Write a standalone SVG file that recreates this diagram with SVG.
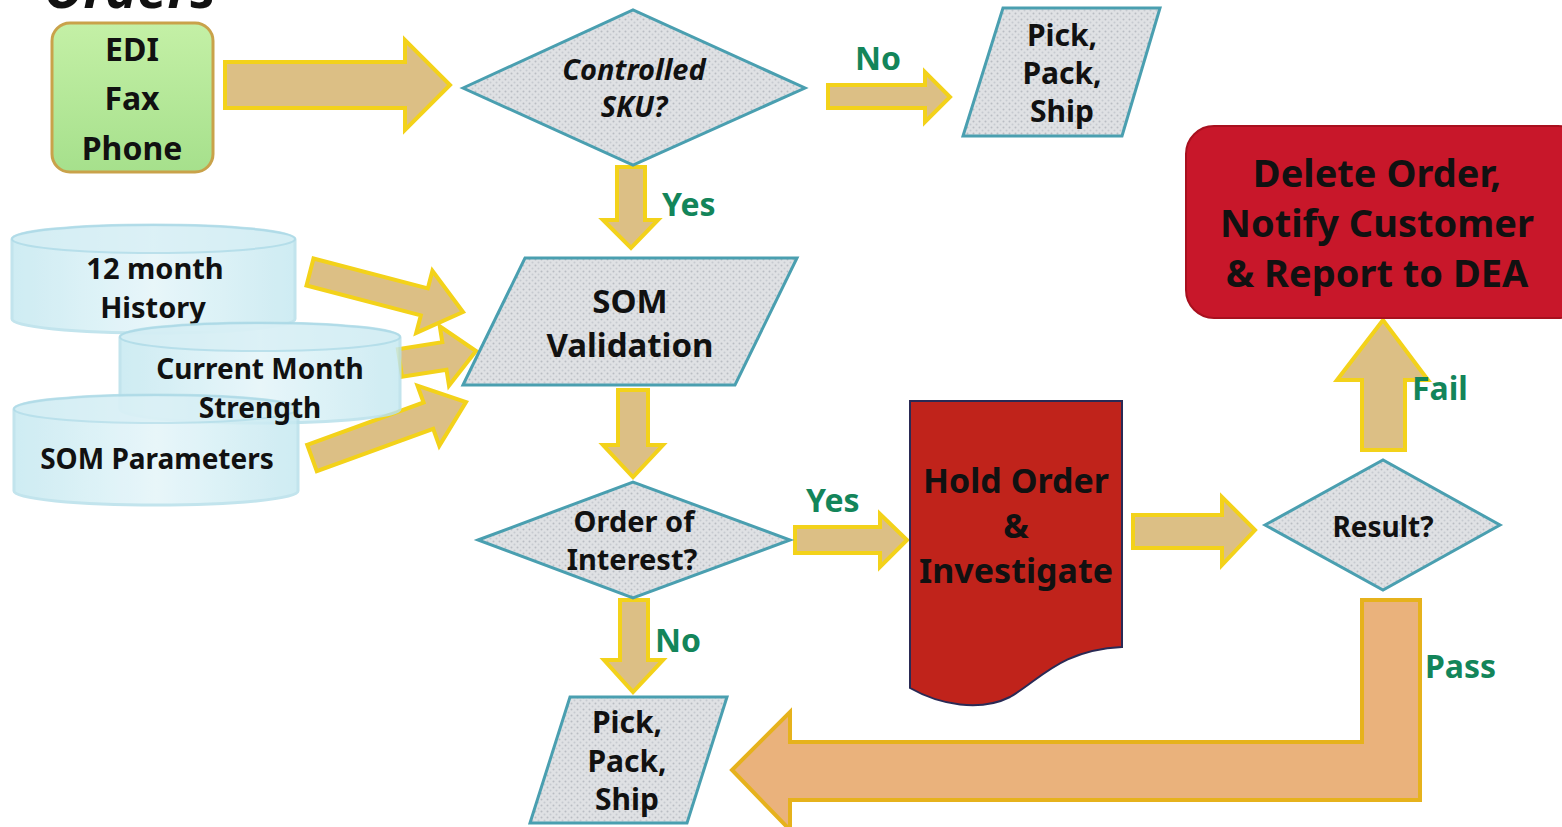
<svg xmlns="http://www.w3.org/2000/svg" width="1562" height="827" viewBox="0 0 1562 827">
  <defs>
    <pattern id="tex" width="6" height="6" patternUnits="userSpaceOnUse">
      <rect width="6" height="6" fill="#dfe1e4"/>
      <circle cx="1.5" cy="1.5" r="1" fill="#b9bdc3"/>
      <circle cx="4.5" cy="4.5" r="1" fill="#c6cad0"/>
    </pattern>
    <linearGradient id="green" x1="0" y1="0" x2="0" y2="1">
      <stop offset="0" stop-color="#c4f0a6"/>
      <stop offset="1" stop-color="#a6e08c"/>
    </linearGradient>
    <linearGradient id="cyl" x1="0" y1="0" x2="1" y2="0">
      <stop offset="0" stop-color="#c6e9f1"/>
      <stop offset="0.5" stop-color="#e4f5f9"/>
      <stop offset="1" stop-color="#c6e9f1"/>
    </linearGradient>
    <style>
      text { font-family: "Noto Sans", "Open Sans", "DejaVu Sans", sans-serif; font-weight: bold; fill: #111; text-anchor: middle; }
      .lbl { fill: #13855a; font-size: 32px; text-anchor: start; }
      .arrow { fill: #dcbf85; stroke: #f3d21a; stroke-width: 4; stroke-linejoin: miter; }
      .pass { fill: #eab27c; stroke: #e6b21c; stroke-width: 4; }
      .dec { fill: url(#tex); stroke: #4a9fb0; stroke-width: 3; }
      .cyl { fill: url(#cyl); stroke: #b8e0ea; stroke-width: 3; opacity: 0.85; }
      .cyltop { fill: #d7eff5; stroke: #a9d8e6; stroke-width: 2; }
    </style>
  </defs>
  <rect width="1562" height="827" fill="#ffffff"/>

  <text x="130" y="8" style="font-size:54px;font-style:italic">Orders</text>

  <g id="connectors">
    <polygon class="arrow" points="225,62 405,62 405,40 450,85 405,130 405,108 225,108"/>
    <polygon class="arrow" points="828,85 925,85 925,72 950,97 925,122 925,108 828,108"/>
    <polygon class="arrow" points="617,167 645,167 645,220 658,220 631,248 603,220 617,220"/>
    <polygon class="arrow" points="313.5,258.5 427.8,288.4 432.4,270.9 463,312 416.2,332.9 420.8,315.4 306.5,285.5"/>
    <polygon class="arrow" points="397.9,349.2 442.3,342.1 439.8,326.3 476,351 449,385.6 446.5,369.7 402.1,376.8"/>
    <polygon class="arrow" points="307.2,444.8 423.6,402.5 417.5,385.6 466,402 439.3,445.8 433.2,428.9 316.8,471.2"/>
    <polygon class="arrow" points="618,390 648,390 648,445 663,445 633,477 603,445 618,445"/>
    <polygon class="arrow" points="795,527 880,527 880,514 907,540 880,567 880,553 795,553"/>
    <polygon class="arrow" points="620,600 648,600 648,660 663,660 633,692 604,660 620,660"/>
    <polygon class="arrow" points="1133,515 1222,515 1222,497 1255,530 1222,565 1222,548 1133,548"/>
    <polygon class="arrow" points="1362,450 1405,450 1405,380 1428,380 1383,320 1337,380 1362,380"/>
    <polygon class="pass" points="1362,600 1420,600 1420,800 790,800 790,830 732,770 790,712 790,742 1362,742"/>
    <text class="lbl" x="855" y="70">No</text>
    <text class="lbl" x="662" y="216">Yes</text>
    <text class="lbl" x="806" y="512">Yes</text>
    <text class="lbl" x="655" y="652">No</text>
    <text class="lbl" x="1412" y="400">Fail</text>
    <text class="lbl" x="1425" y="678">Pass</text>
  </g>

  <g id="orders-source">
    <rect x="52" y="23" width="161" height="149" rx="18" fill="url(#green)" stroke="#c9a24a" stroke-width="3"/>
    <text x="132" y="61" style="font-size:32px">EDI</text>
    <text x="132" y="110" style="font-size:32px">Fax</text>
    <text x="132" y="160" style="font-size:32px">Phone</text>
  </g>

  <g id="controlled-sku">
    <polygon class="dec" points="463,88 633,10 805,88 633,165"/>
    <text x="634" y="80" style="font-size:29px;font-style:italic">Controlled</text>
    <text x="634" y="117" style="font-size:29px;font-style:italic">SKU?</text>
  </g>

  <g id="pick-pack-ship-top">
    <polygon class="dec" points="963,136 1003,8 1160,8 1122,136"/>
    <text x="1062" y="46" style="font-size:30px">Pick,</text>
    <text x="1062" y="84" style="font-size:30px">Pack,</text>
    <text x="1062" y="122" style="font-size:30px">Ship</text>
  </g>

  <g id="history-12-month">
    <path class="cyl" d="M12,239 A141.5,14 0 0 1 295,239 V319 A141.5,14 0 0 1 12,319 Z"/>
    <ellipse class="cyltop" cx="153.5" cy="239" rx="141.5" ry="14" opacity="0.7"/>
    <text x="155" y="279" style="font-size:29px">12 month</text>
    <text x="153" y="318" style="font-size:29px">History</text>
  </g>

  <g id="current-month-strength">
    <path class="cyl" d="M120,337 A140,14 0 0 1 400,337 V409 A140,14 0 0 1 120,409 Z"/>
    <ellipse class="cyltop" cx="260" cy="337" rx="140" ry="14" opacity="0.7"/>
  </g>

  <g id="som-parameters">
    <path class="cyl" d="M14,409 A142,14 0 0 1 298,409 V491 A142,14 0 0 1 14,491 Z"/>
    <ellipse class="cyltop" cx="156" cy="409" rx="142" ry="14" opacity="0.6"/>
    <text x="157" y="469" style="font-size:28px">SOM Parameters</text>
  </g>
  <g id="current-month-strength-text">
    <text x="260" y="379" style="font-size:28px">Current Month</text>
    <text x="260" y="418" style="font-size:28px">Strength</text>
  </g>

  <g id="som-validation">
    <polygon class="dec" points="463,385 525,258 797,258 735,385"/>
    <text x="630" y="313" style="font-size:33px">SOM</text>
    <text x="630" y="357" style="font-size:33px">Validation</text>
  </g>

  <g id="order-of-interest">
    <polygon class="dec" points="478,540 633,482 790,540 633,598"/>
    <text x="634" y="532" style="font-size:29px">Order of</text>
    <text x="632" y="570" style="font-size:29px">Interest?</text>
  </g>

  <g id="pick-pack-ship-bottom">
    <polygon class="dec" points="530,823 570,697 727,697 687,823"/>
    <text x="627" y="733" style="font-size:30px">Pick,</text>
    <text x="627" y="772" style="font-size:30px">Pack,</text>
    <text x="627" y="810" style="font-size:30px">Ship</text>
  </g>

  <g id="hold-order">
    <path d="M910,401 H1122 V647 C1060,650 1040,680 1010,697 C980,712 940,705 910,688 Z" fill="#c0231b" stroke="#2a2a55" stroke-width="2"/>
    <text x="1016" y="493" style="font-size:34px">Hold Order</text>
    <text x="1016" y="538" style="font-size:34px">&amp;</text>
    <text x="1016" y="583" style="font-size:34px">Investigate</text>
  </g>

  <g id="result">
    <polygon class="dec" points="1265,525 1383,460 1500,525 1383,590"/>
    <text x="1383" y="537" style="font-size:28px">Result?</text>
  </g>

  <g id="delete-order">
    <rect x="1186" y="126" width="400" height="192" rx="28" fill="#c8172a" stroke="#a8101e" stroke-width="2"/>
    <text x="1377" y="187" style="font-size:38px">Delete Order,</text>
    <text x="1377" y="237" style="font-size:38px">Notify Customer</text>
    <text x="1377" y="287" style="font-size:38px">&amp; Report to DEA</text>
  </g>
</svg>
